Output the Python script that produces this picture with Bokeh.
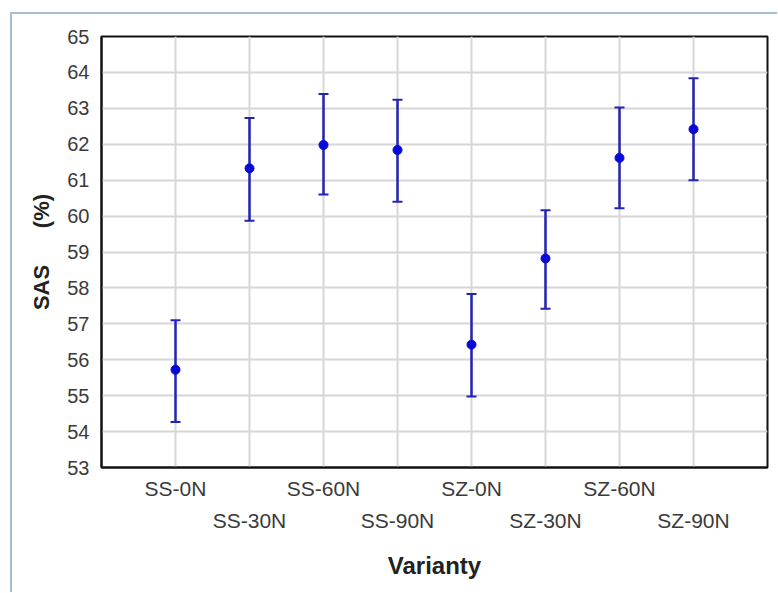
from bokeh.plotting import figure
from bokeh.models import (ColumnDataSource, Range1d, FixedTicker, LinearAxis,
                          Whisker, TeeHead)
from bokeh.embed import file_html
from bokeh.resources import INLINE

# ---- data ----
categories = ["SS-0N", "SS-30N", "SS-60N", "SS-90N", "SZ-0N", "SZ-30N", "SZ-60N", "SZ-90N"]
means = [55.72, 61.33, 61.98, 61.84, 56.42, 58.82, 61.62, 62.42]
upper = [57.10, 62.73, 63.40, 63.24, 57.83, 60.16, 63.02, 63.84]
lower = [54.27, 59.87, 60.60, 60.40, 54.98, 57.42, 60.22, 61.00]
y_ticks = list(range(53, 66))

xs = list(range(1, len(categories) + 1))
src = ColumnDataSource(dict(x=xs, mean=means, upper=upper, lower=lower))

BLUE_LINE = "#2424b4"
BLUE_MARK = "#0808d8"
FONT = "Liberation Sans"
TXT = "#3a3a3a"

p = figure(width=767, height=580, output_backend="svg", toolbar_location=None,
           x_range=Range1d(0, len(categories) + 1), y_range=Range1d(53, 65),
           x_axis_location=None, y_axis_location=None,
           min_border_left=89, min_border_right=12, min_border_top=22,
           min_border_bottom=127)
p.styles = {"margin-left": "10px", "margin-top": "12px",
            "border-left": "2px solid #a8bcd2", "border-top": "2px solid #a8bcd2"}

p.background_fill_color = "white"
p.border_fill_color = "white"
p.outline_line_color = "#111111"
p.outline_line_width = 2

# left axis
ya = LinearAxis(ticker=FixedTicker(ticks=y_ticks))
ya.axis_label = "SAS" + "\u00a0" * 6 + "(%)"
ya.axis_label_text_font = FONT
ya.axis_label_text_font_style = "bold"
ya.axis_label_text_font_size = "22px"
ya.axis_label_text_color = "#222222"
ya.axis_label_standoff = 10
ya.major_label_text_font = FONT
ya.major_label_text_font_size = "20px"
ya.major_label_text_color = TXT
ya.major_label_standoff = 6
ya.major_tick_line_color = None
ya.minor_tick_line_color = None
ya.axis_line_color = "#111111"
ya.axis_line_width = 2
p.add_layout(ya, "left")

# bottom axes: staggered labels
odd = xs[0::2]
even = xs[1::2]
xa1 = LinearAxis(ticker=FixedTicker(ticks=odd),
                 major_label_overrides={i: categories[i - 1] for i in odd})
xa2 = LinearAxis(ticker=FixedTicker(ticks=even),
                 major_label_overrides={i: categories[i - 1] for i in even})
for ax in (xa1, xa2):
    ax.major_label_text_font = FONT
    ax.major_label_text_font_size = "21px"
    ax.major_label_text_color = TXT
    ax.major_tick_line_color = None
    ax.minor_tick_line_color = None
xa1.axis_line_color = "#111111"
xa1.axis_line_width = 2
xa1.major_label_standoff = 3
xa2.axis_line_color = None
xa2.major_label_standoff = 0
xa2.axis_label = "Varianty"
xa2.axis_label_text_font = FONT
xa2.axis_label_text_font_style = "bold"
xa2.axis_label_text_font_size = "24px"
xa2.axis_label_text_color = "#222222"
xa2.axis_label_standoff = 17
p.add_layout(xa1, "below")
p.add_layout(xa2, "below")

# grid
p.xgrid.ticker = FixedTicker(ticks=xs)
p.ygrid.ticker = FixedTicker(ticks=y_ticks)
for g in (p.xgrid, p.ygrid):
    g.grid_line_color = "#d6d6d6"
    g.grid_line_width = 2

# error bars
w = Whisker(source=src, base="x", upper="upper", lower="lower",
            line_color=BLUE_LINE, line_width=2.5,
            upper_head=TeeHead(size=10, line_color=BLUE_LINE, line_width=2),
            lower_head=TeeHead(size=10, line_color=BLUE_LINE, line_width=2))
p.add_layout(w)

p.scatter("x", "mean", source=src, size=9, marker="circle",
          fill_color=BLUE_MARK, line_color=BLUE_MARK)

open("out.html", "w").write(file_html(p, INLINE))
